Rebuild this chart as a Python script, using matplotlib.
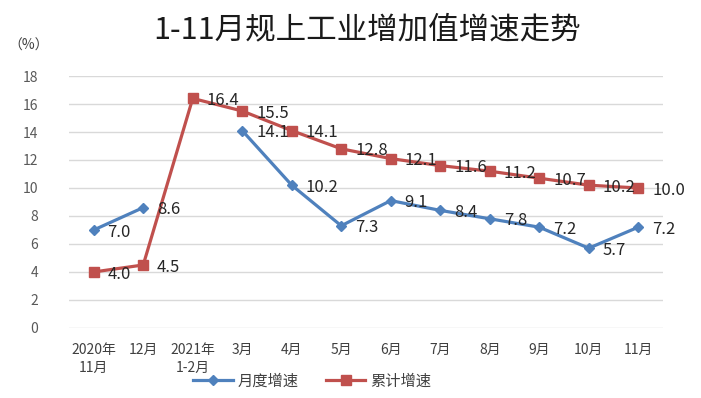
"""1-11月规上工业增加值增速走势"""

import matplotlib
matplotlib.use("Agg")
import matplotlib.pyplot as plt
import numpy as np

plt.rcParams["font.family"] = ["Noto Sans CJK SC", "DejaVu Sans"]

# ===========================
# Dados
# ===========================

categorias = ["2020年\n11月", "12月", "2021年\n1-2月", "3月", "4月", "5月",
              "6月", "7月", "8月", "9月", "10月", "11月"]

mensal = [7.0, 8.6, np.nan, 14.1, 10.2, 7.3, 9.1, 8.4, 7.8, 7.2, 5.7, 7.2]

acumulado = [4.0, 4.5, 16.4, 15.5, 14.1, 12.8, 12.1, 11.6, 11.2, 10.7, 10.2, 10.0]

nomes = ["月度增速", "累计增速"]

azul = "#4F81BD"
vermelho = "#C0504D"

# ===========================
# Gráfico
# ===========================

fig = plt.figure(figsize=(7.01, 3.98), dpi=100)
ax = fig.add_axes([0.0984, 0.176, 0.8474, 0.633])

x = np.arange(len(categorias))

ax.plot(x, mensal, color=azul, linewidth=2.3, marker="D", markersize=5.5,
        label=nomes[0], zorder=3)
ax.plot(x, acumulado, color=vermelho, linewidth=2.3, marker="s", markersize=7,
        label=nomes[1], zorder=3)

# Rótulos à direita de cada ponto
for serie in (mensal, acumulado):
    for xi, v in zip(x, serie):
        if np.isnan(v):
            continue
        ax.annotate(f"{v:.1f}", (xi, v), xytext=(10, -1.5),
                    textcoords="offset points", ha="left", va="center",
                    fontsize=12, color="#262626", zorder=4)

ax.set_xlim(-0.5, len(categorias) - 0.5)
ax.set_ylim(0, 18)
ax.set_yticks(range(0, 19, 2))
ax.set_xticks(x)
ax.set_xticklabels(categorias, fontsize=10, color="#404040", linespacing=1.3)
ax.tick_params(axis="y", labelsize=10, labelcolor="#595959", length=0, pad=22)
ax.tick_params(axis="x", length=0, pad=11)

ax.grid(axis="y", color="#D9D9D9", linewidth=1)
ax.set_axisbelow(True)
for lado in ax.spines.values():
    lado.set_visible(False)

fig.text(0.523, 0.925, "1-11月规上工业增加值增速走势", ha="center", va="center",
         fontsize=22, color="#1a1a1a")
fig.text(0.012, 0.885, "（%）", ha="left", va="center", fontsize=10,
         color="#404040")

fig.legend(loc="center", bbox_to_anchor=(0.445, 0.043), ncol=2, frameon=False,
           fontsize=11, handlelength=2.6, columnspacing=1.8, handletextpad=0.3,
           labelcolor="#404040")

fig.savefig("out.png", dpi=100)
plt.close(fig)
